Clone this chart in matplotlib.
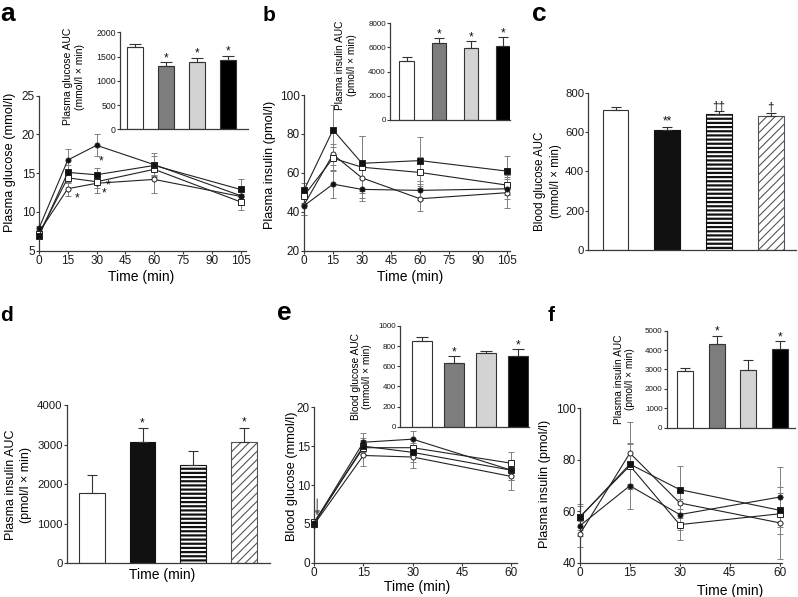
import matplotlib
matplotlib.use('Agg')
import matplotlib.pyplot as plt

plt.rcParams['font.family'] = ['Liberation Sans', 'DejaVu Sans']
plt.rcParams['hatch.linewidth'] = 0.8

# ---------------- data ----------------
time_long = [0, 15, 30, 60, 105]
time_short = [0, 15, 30, 60]

# panel a: plasma glucose (mmol/l)
a_fc = [7.9, 16.7, 18.6, 16.1, 12.1]
a_fc_err = [0.3, 1.4, 1.4, 1.5, 0.8]
a_fs = [6.9, 15.1, 14.8, 16.0, 12.9]
a_fs_err = [0.3, 0.9, 0.9, 1.2, 1.4]
a_os = [7.2, 14.4, 13.9, 15.5, 11.3]
a_os_err = [0.3, 0.7, 0.8, 1.0, 1.0]
a_oc = [7.4, 13.0, 13.7, 14.2, 12.0]
a_oc_err = [0.3, 0.9, 1.2, 1.7, 0.9]
a_auc = [1700, 1310, 1385, 1425]
a_auc_err = [60, 75, 95, 95]
a_auc_sig = ['', '*', '*', '*']

# panel b: plasma insulin (pmol/l)
b_fs = [51.0, 82.1, 64.9, 66.3, 60.9]
b_fs_err = [4, 13, 14, 12, 8]
b_os = [48.3, 67.5, 62.9, 60.2, 53.7]
b_os_err = [4, 6, 16, 8, 5]
b_oc = [43.5, 69.5, 57.4, 46.7, 49.8]
b_oc_err = [5, 5.5, 8, 6.5, 8]
b_fc = [43.1, 54.2, 51.5, 51.0, 51.8]
b_fc_err = [5, 7, 6, 5, 5]
b_auc = [4900, 6400, 5930, 6120]
b_auc_err = [280, 360, 630, 720]
b_auc_sig = ['', '*', '*', '*']

# panel c: blood glucose AUC
c_auc = [712, 610, 690, 681]
c_auc_err = [13, 17, 15, 17]
c_sig = ['', '**', '\u2020\u2020', '\u2020']

# panel d: plasma insulin AUC
d_auc = [1768, 3074, 2476, 3065]
d_auc_err = [460, 340, 370, 360]
d_sig = ['', '*', '', '*']

# panel e: blood glucose (mmol/l)
e_fc = [5.1, 15.5, 15.9, 11.9]
e_fc_err = [0.3, 1.2, 1.1, 1.3]
e_fs = [5.0, 15.0, 14.2, 11.9]
e_fs_err = [0.3, 1.0, 1.2, 1.2]
e_os = [5.2, 14.8, 14.8, 12.8]
e_os_err = [0.3, 1.0, 1.0, 1.5]
e_oc = [4.9, 13.8, 13.6, 11.1]
e_oc_err = [0.3, 1.3, 1.4, 1.8]
e_auc = [848, 636, 728, 705]
e_auc_err = [40, 65, 27, 63]
e_auc_sig = ['', '*', '', '*']

# panel f: plasma insulin (pmol/l)
f_fs = [57.7, 78.3, 68.4, 60.4]
f_fs_err = [5, 8, 9, 5]
f_os = [57.9, 77.7, 54.8, 59.0]
f_os_err = [4, 9, 6, 8]
f_fc = [54.4, 69.9, 58.7, 65.5]
f_fc_err = [4, 9, 6, 11.5]
f_oc = [51.2, 82.6, 63.2, 55.5]
f_oc_err = [5, 12, 6, 14]
f_auc = [2920, 4330, 2950, 4050]
f_auc_err = [170, 420, 560, 420]
f_auc_sig = ['', '*', '', '*']

# ---------------- helpers ----------------
W, H = 798, 597
fig = plt.figure(figsize=(W / 100, H / 100), dpi=100)

def axpx(l, t, r, b):
    return fig.add_axes([l / W, 1 - b / H, (r - l) / W, (b - t) / H])

def ftext(x, y, s, **kw):
    return fig.text(x / W, 1 - y / H, s, **kw)

SPINE = '#3a3a3a'

def style(ax, labelsize):
    for s in ['top', 'right']:
        ax.spines[s].set_visible(False)
    for s in ['left', 'bottom']:
        ax.spines[s].set_color(SPINE)
        ax.spines[s].set_linewidth(0.9)
    ax.tick_params(direction='out', length=2.2, width=0.8, color=SPINE,
                   labelsize=labelsize, pad=0.8, labelcolor='#1a1a1a')
    ax.set_facecolor('none')

MK = {
    'fc': dict(marker='o', ms=3.6, mfc='#111111'),
    'fs': dict(marker='s', ms=4.2, mfc='#111111'),
    'os': dict(marker='s', ms=4.2, mfc='white'),
    'oc': dict(marker='o', ms=3.6, mfc='white'),
}

def lines(ax, t, series):
    for key, vals, errs in series:
        ax.errorbar(t, vals, yerr=errs, fmt='none', ecolor='#808080',
                    elinewidth=0.7, capsize=2, capthick=0.7, zorder=2,
                    clip_on=False)
        ax.plot(t, vals, color='#222222', lw=0.8, mec='#222222', mew=0.7,
                zorder=3, clip_on=False, **MK[key])

def main_axes(ax, xlim, xticks, ylim, yticks):
    style(ax, 8.5)
    ax.set_xlim(*xlim)
    ax.set_ylim(*ylim)
    ax.set_xticks(xticks)
    ax.set_yticks(yticks)

INSET_COLORS = ['white', '#7d7d7d', '#d3d3d3', 'black']

def bar_labels(ax, vals, errs, sig, fs, off):
    for i, (v, e, s) in enumerate(zip(vals, errs, sig)):
        if s:
            ax.annotate(s, (i, v + e), xytext=(0, off), textcoords='offset points',
                        ha='center', va='baseline', fontsize=fs, color='#111111')

def inset(ax, vals, errs, sig, ylim, yticks, xlim, width, capsize, tsize):
    style(ax, tsize)
    x = list(range(4))
    ax.bar(x, vals, width, color=INSET_COLORS, edgecolor='#333333', linewidth=0.8)
    ax.errorbar(x, vals, yerr=[[0] * 4, errs], fmt='none', ecolor='#333333',
                elinewidth=0.8, capsize=capsize, capthick=0.8)
    ax.set_xlim(*xlim)
    ax.set_ylim(*ylim)
    ax.set_yticks(yticks)
    ax.set_xticks([])
    bar_labels(ax, vals, errs, sig, 8.5, 0.5)

def hatch_bars(ax, vals, errs, sig, ylim, yticks, xlim, width, sigfs):
    style(ax, 8.2)
    faces = ['white', '#111111', 'white', 'white']
    edges = ['#333333', '#111111', '#111111', '#555555']
    hatches = [None, None, '----', '////']
    x = list(range(4))
    for i in x:
        b = ax.bar(i, vals[i], width, color=faces[i], edgecolor=edges[i],
                   linewidth=0.8, hatch=hatches[i])
        if i == 2:
            for p in b:
                if hasattr(p, 'set_hatch_linewidth'):
                    p.set_hatch_linewidth(1.6)
    ax.errorbar(x, vals, yerr=[[0] * 4, errs], fmt='none', ecolor='#333333',
                elinewidth=0.8, capsize=3.5, capthick=0.8)
    ax.set_xlim(*xlim)
    ax.set_ylim(*ylim)
    ax.set_yticks(yticks)
    ax.set_xticks([])
    bar_labels(ax, vals, errs, sig, sigfs, 1.5)

def star(ax, x, y, fs=8.5):
    ax.annotate('*', (x, y), xytext=(0, -0.55 * fs), textcoords='offset points',
                ha='center', va='baseline', fontsize=fs, color='#111111')

# ---------------- panel a ----------------
ax = axpx(39, 95.7, 39 + 1.92 * 108, 250.7)
main_axes(ax, (0, 108), [0, 15, 30, 45, 60, 75, 90, 105], (5, 25), [5, 10, 15, 20, 25])
lines(ax, time_long, [('oc', a_oc, a_oc_err), ('os', a_os, a_os_err),
                      ('fs', a_fs, a_fs_err), ('fc', a_fc, a_fc_err)])
for sx, sy in [(19.9, 12.2), (32.3, 17.0), (36.1, 13.9), (33.8, 12.8)]:
    star(ax, sx, sy)
ftext(10, 162.5, 'Plasma glucose (mmol/l)', rotation=90, ha='center', va='center', fontsize=9.2)
ftext(140.7, 277, 'Time (min)', ha='center', va='center', fontsize=10)

ax = axpx(120, 32.3, 248.3, 129.3)
inset(ax, a_auc, a_auc_err, a_auc_sig, (0, 2000), [0, 500, 1000, 1500, 2000],
      (-0.49, 3.65), 0.52, 4, 6.3)
ftext(74, 76.7, 'Plasma glucose AUC\n(mmol/l \u00d7 min)', rotation=90, ha='center',
      va='center', fontsize=7.5, linespacing=1.15)

# ---------------- panel b ----------------
ax = axpx(304, 95, 304 + 1.933 * 106.5, 250.7)
main_axes(ax, (0, 106.5), [0, 15, 30, 45, 60, 75, 90, 105], (20, 100), [20, 40, 60, 80, 100])
lines(ax, time_long, [('oc', b_oc, b_oc_err), ('os', b_os, b_os_err),
                      ('fc', b_fc, b_fc_err), ('fs', b_fs, b_fs_err)])
ftext(270, 165, 'Plasma insulin (pmol/l)', rotation=90, ha='center', va='center', fontsize=9.2)
ftext(410, 277, 'Time (min)', ha='center', va='center', fontsize=10)

ax = axpx(390, 23.3, 510, 120)
inset(ax, b_auc, b_auc_err, b_auc_sig, (0, 8000), [0, 2000, 4000, 6000, 8000],
      (-0.52, 3.21), 0.46, 3.5, 5.8)
ftext(346, 65, 'Plasma insulin AUC\n(pmol/l \u00d7 min)', rotation=90, ha='center',
      va='center', fontsize=7.3, linespacing=1.15)

# ---------------- panel c ----------------
ax = axpx(588.3, 92.7, 796, 250)
hatch_bars(ax, c_auc, c_auc_err, c_sig, (0, 800), [0, 200, 400, 600, 800],
           (-0.526, 3.49), 0.497, 8.5)
ftext(548, 181, 'Blood glucose AUC\n(mmol/l \u00d7 min)', rotation=90, ha='center',
      va='center', fontsize=8.3, linespacing=1.35)

# ---------------- panel d ----------------
ax = axpx(66.7, 405, 270, 563.3)
hatch_bars(ax, d_auc, d_auc_err, d_sig, (0, 4000), [0, 1000, 2000, 3000, 4000],
           (-0.5, 3.52), 0.51, 8.5)
ftext(18.3, 485, 'Plasma insulin AUC\n(pmol/l \u00d7 min)', rotation=90, ha='center',
      va='center', fontsize=9, linespacing=1.3)
ftext(161.7, 575, 'Time (min)', ha='center', va='center', fontsize=10)

# ---------------- panel e ----------------
ax = axpx(314, 407.3, 516.7, 562.7)
main_axes(ax, (0, 61.6), [0, 15, 30, 45, 60], (0, 20), [0, 5, 10, 15, 20])
lines(ax, time_short, [('oc', e_oc, e_oc_err), ('os', e_os, e_os_err),
                       ('fs', e_fs, e_fs_err), ('fc', e_fc, e_fc_err)])
ax.annotate('', xy=(1.0, 6.0), xytext=(1.0, 8.2),
            arrowprops=dict(arrowstyle='-|>', color='#777777', lw=1.0,
                            mutation_scale=7, shrinkA=0, shrinkB=0,
                            fc='#111111', ec='#777777'))
ftext(291.7, 476.7, 'Blood glucose (mmol/l)', rotation=90, ha='center', va='center', fontsize=9.2)
ftext(416.7, 586.7, 'Time (min)', ha='center', va='center', fontsize=10)

ax = axpx(400, 326, 529, 426.7)
inset(ax, e_auc, e_auc_err, e_auc_sig, (0, 1000), [0, 200, 400, 600, 800, 1000],
      (-0.67, 3.33), 0.62, 4, 5.8)
ftext(361.7, 376.7, 'Blood glucose AUC\n(mmol/l \u00d7 min)', rotation=90, ha='center',
      va='center', fontsize=7.3, linespacing=1.15)

# ---------------- panel f ----------------
ax = axpx(580, 408.3, 782, 562.7)
main_axes(ax, (0, 60.75), [0, 15, 30, 45, 60], (40, 100), [40, 60, 80, 100])
lines(ax, time_short, [('oc', f_oc, f_oc_err), ('os', f_os, f_os_err),
                       ('fc', f_fc, f_fc_err), ('fs', f_fs, f_fs_err)])
ftext(545, 484, 'Plasma insulin (pmol/l)', rotation=90, ha='center', va='center', fontsize=9.2)
ftext(730, 590.7, 'Time (min)', ha='center', va='center', fontsize=10)

ax = axpx(666.7, 330.7, 795, 427.7)
inset(ax, f_auc, f_auc_err, f_auc_sig, (0, 5000), [0, 1000, 2000, 3000, 4000, 5000],
      (-0.58, 3.47), 0.505, 3.5, 5.8)
ftext(624.7, 379, 'Plasma insulin AUC\n(pmol/l \u00d7 min)', rotation=90, ha='center',
      va='center', fontsize=7.3, linespacing=1.15)

# ---------------- panel letters ----------------
for lx, ly, s, fs in [(0.5, 21, 'a', 19), (263, 21, 'b', 15), (532, 21, 'c', 19),
                      (0.5, 321, 'd', 15), (277, 320, 'e', 19), (548, 321, 'f', 15)]:
    ftext(lx, ly, s, ha='left', va='baseline', fontsize=fs, fontweight='bold')

fig.savefig('out.png', dpi=100)
